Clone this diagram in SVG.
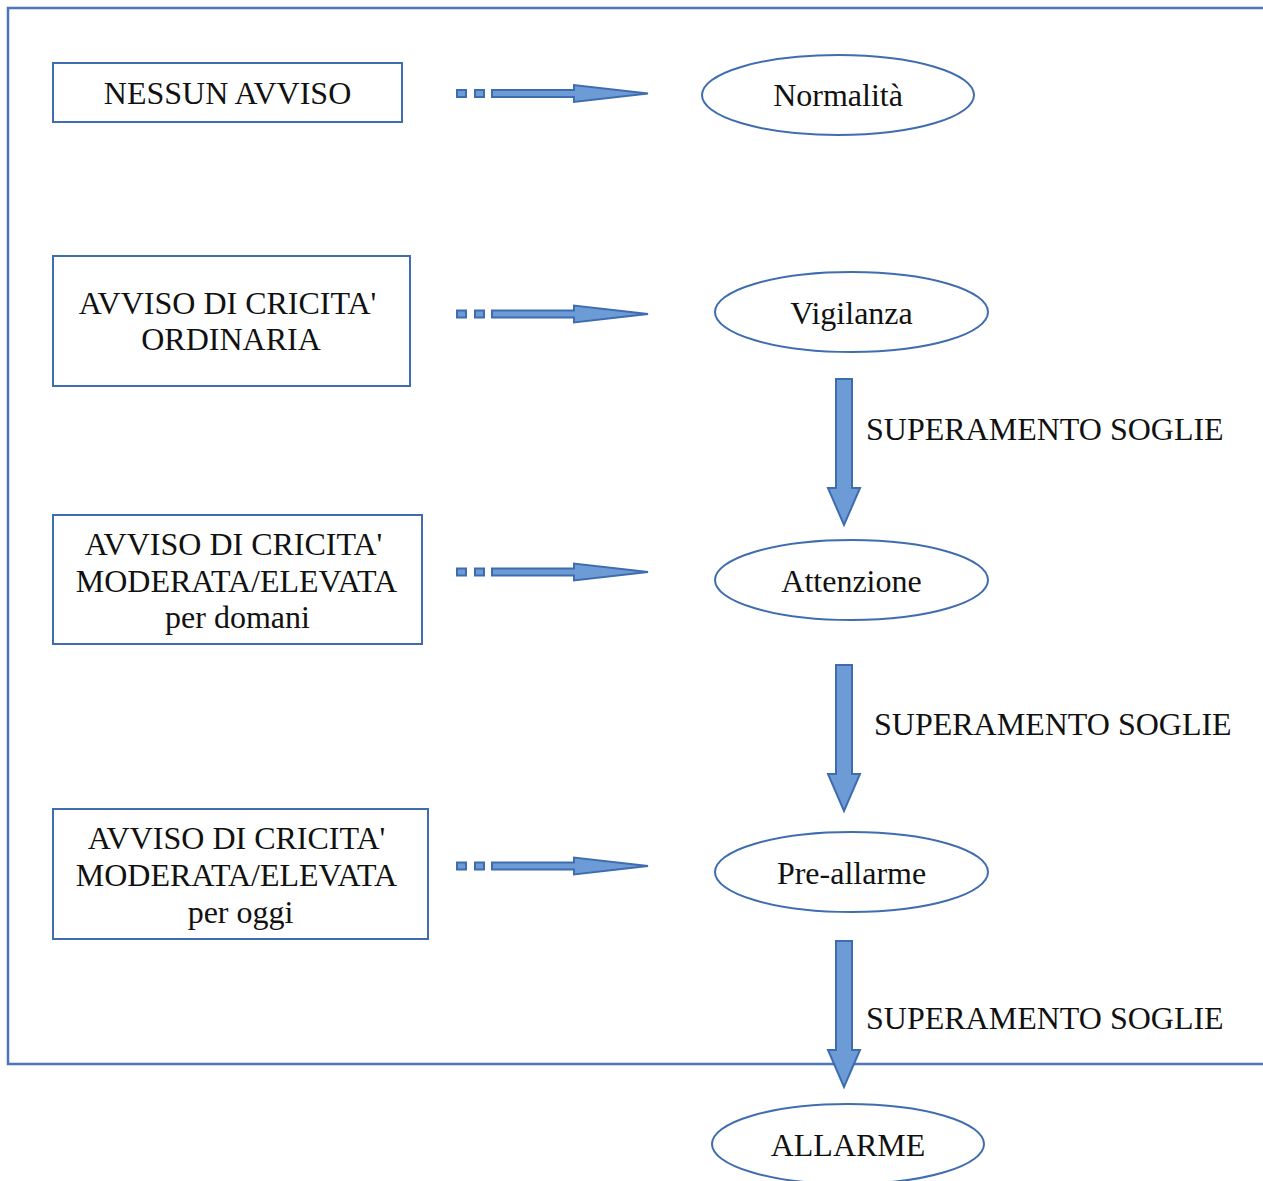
<svg xmlns="http://www.w3.org/2000/svg" width="1263" height="1181" viewBox="0 0 1263 1181">
<defs>
<style>
.box{fill:#ffffff;stroke:#3f6db0;stroke-width:2}
.ell{fill:#ffffff;stroke:#3f6db0;stroke-width:2}
.frame{fill:none;stroke:#4a76b5;stroke-width:2.5}
.arr{fill:#6d9bd5;stroke:#3e6cb0;stroke-width:2;stroke-linejoin:miter}
.t{font-family:"Liberation Serif","Times New Roman",serif;font-size:32px;fill:#111111;text-anchor:middle}
.lbl{font-family:"Liberation Serif","Times New Roman",serif;font-size:32px;fill:#111111}
</style>
<g id="harrow">
<rect x="457" y="-3.5" width="9" height="7"/>
<rect x="475" y="-3.5" width="9" height="7"/>
<polygon points="492,-3.5 574,-3.5 574,-8.5 648,0 574,8.5 574,3.5 492,3.5"/>
</g>
<polygon id="varrow" points="-8,0 8,0 8,109 16,109 0,146 -16,109 -8,109"/>
</defs>
<path class="frame" d="M1263,8 H8 V1064 H1263"/>
<g id="connectors">
<use href="#harrow" class="arr" transform="translate(0,93.5)"/>
<use href="#harrow" class="arr" transform="translate(0,314)"/>
<use href="#harrow" class="arr" transform="translate(0,572)"/>
<use href="#harrow" class="arr" transform="translate(0,866)"/>
<use href="#varrow" class="arr" transform="translate(844,379)"/>
<use href="#varrow" class="arr" transform="translate(844,665)"/>
<use href="#varrow" class="arr" transform="translate(844,941)"/>
<text class="lbl" x="866" y="440">SUPERAMENTO SOGLIE</text>
<text class="lbl" x="874" y="735">SUPERAMENTO SOGLIE</text>
<text class="lbl" x="866" y="1029">SUPERAMENTO SOGLIE</text>
</g>
<g id="box-nessun">
<rect class="box" x="53" y="63" width="349" height="59"/>
<text class="t" x="227.5" y="104">NESSUN AVVISO</text>
</g>
<g id="box-ordinaria">
<rect class="box" x="53" y="256" width="357" height="130"/>
<text class="t" x="227.5" y="314">AVVISO DI CRICITA'</text>
<text class="t" x="231" y="350">ORDINARIA</text>
</g>
<g id="box-domani">
<rect class="box" x="53" y="515" width="369" height="129"/>
<text class="t" x="233.5" y="555">AVVISO DI CRICITA'</text>
<text class="t" x="236.5" y="591.5">MODERATA/ELEVATA</text>
<text class="t" x="237.5" y="628">per domani</text>
</g>
<g id="box-oggi">
<rect class="box" x="53" y="809" width="375" height="130"/>
<text class="t" x="236.5" y="849">AVVISO DI CRICITA'</text>
<text class="t" x="236.5" y="886">MODERATA/ELEVATA</text>
<text class="t" x="240.5" y="923">per oggi</text>
</g>
<g id="normalita">
<ellipse class="ell" cx="838" cy="95" rx="136" ry="40"/>
<text class="t" x="838" y="106">Normalità</text>
</g>
<g id="vigilanza">
<ellipse class="ell" cx="851.5" cy="312" rx="136.5" ry="40"/>
<text class="t" x="851.5" y="324">Vigilanza</text>
</g>
<g id="attenzione">
<ellipse class="ell" cx="851.5" cy="580" rx="136.5" ry="40"/>
<text class="t" x="851.5" y="592">Attenzione</text>
</g>
<g id="preallarme">
<ellipse class="ell" cx="851.5" cy="872" rx="136.5" ry="40"/>
<text class="t" x="851.5" y="884">Pre-allarme</text>
</g>
<g id="allarme">
<ellipse class="ell" cx="848" cy="1144" rx="136" ry="40"/>
<text class="t" x="848" y="1156">ALLARME</text>
</g>
</svg>
